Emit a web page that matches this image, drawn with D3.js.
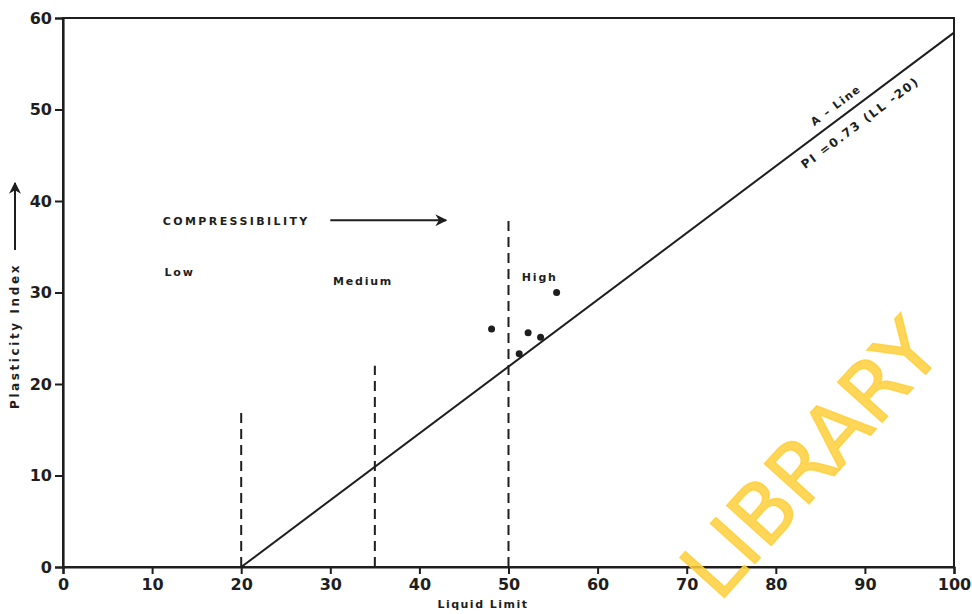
<!DOCTYPE html>
<html>
<head>
<meta charset="utf-8">
<script src="https://cdn.jsdelivr.net/npm/d3@7"></script>
<style>
  body { margin: 0; background: #fff; }
  svg { display: block; }
  text { font-family: "DejaVu Sans", sans-serif; font-weight: bold; }
</style>
</head>
<body>
<div id="chart"></div>
<script>
// values
var xTicks = [0, 10, 20, 30, 40, 50, 60, 70, 80, 90, 100];
var yTicks = [0, 10, 20, 30, 40, 50, 60];
var sampleLL = [48.1, 51.2, 52.2, 53.6, 55.4];
var samplePI = [26.0, 23.3, 25.6, 25.1, 30.0];
var aLineLL = [20, 100];
var aLinePI = [0, 58.4];
var dividerLL = [20, 35, 50];
var dividerTop = [17, 22, 38];
var zoneNames = ["Low", "Medium", "High"];
var zoneLL = [11.4, 30.3, 51.5];
var zonePI = [31.8, 30.8, 31.3];

var W = 972, H = 614;
var margin = {top: 18, right: 18, bottom: 47, left: 63};
var ink = "#1e1e1e";

var svg = d3.select("#chart").append("svg")
    .attr("width", W).attr("height", H);

var x = d3.scaleLinear().domain([0, 100]).range([margin.left, W - margin.right]);
var y = d3.scaleLinear().domain([0, 60]).range([H - margin.bottom, margin.top]);

svg.append("defs").append("marker")
    .attr("id", "head")
    .attr("viewBox", "0 0 10 10")
    .attr("refX", 9).attr("refY", 5)
    .attr("markerWidth", 7).attr("markerHeight", 6)
    .attr("orient", "auto")
    .append("path").attr("d", "M0,0 L10,5 L0,10 L3,5 Z").attr("fill", ink);

// frame
svg.append("rect")
    .attr("x", x(0)).attr("y", y(60))
    .attr("width", x(100) - x(0)).attr("height", y(0) - y(60))
    .attr("fill", "none").attr("stroke", ink).attr("stroke-width", 2);

var xAxis = svg.append("g")
    .attr("transform", "translate(0," + y(0) + ")")
    .call(d3.axisBottom(x).tickValues(xTicks).tickSize(7).tickPadding(5).tickFormat(d3.format("d")));
var yAxis = svg.append("g")
    .attr("transform", "translate(" + x(0) + ",0)")
    .call(d3.axisLeft(y).tickValues(yTicks).tickSize(8).tickPadding(3).tickFormat(d3.format("d")));
[xAxis, yAxis].forEach(function(g) {
    g.select(".domain").attr("stroke", ink).attr("stroke-width", 2.2);
    g.selectAll(".tick line").attr("stroke", ink).attr("stroke-width", 2);
    g.selectAll(".tick text")
        .style("font-family", "DejaVu Sans, sans-serif")
        .style("font-weight", "bold")
        .style("font-size", "16px")
        .style("fill", ink);
});

// A-line
var line = d3.line().x(function(d) { return x(d[0]); }).y(function(d) { return y(d[1]); });
svg.append("path")
    .datum(d3.zip(aLineLL, aLinePI))
    .attr("d", line)
    .attr("fill", "none").attr("stroke", ink).attr("stroke-width", 2);

var ang = Math.atan2(y(aLinePI[1]) - y(aLinePI[0]), x(aLineLL[1]) - x(aLineLL[0])) * 180 / Math.PI;
function onLine(ll, off) {
    var px = x(ll), py = y(aLinePI[0] + (ll - aLineLL[0]) * (aLinePI[1] - aLinePI[0]) / (aLineLL[1] - aLineLL[0]));
    var r = ang * Math.PI / 180;
    return [px + Math.sin(r) * off, py - Math.cos(r) * off];
}
var p1 = onLine(87.6, 9);
svg.append("text")
    .attr("transform", "translate(" + p1 + ") rotate(" + ang + ")")
    .attr("text-anchor", "middle")
    .style("font-size", "11px").style("letter-spacing", "1.5px").style("fill", ink)
    .text("A – Line");
var p2 = onLine(88.4, -20);
svg.append("text")
    .attr("transform", "translate(" + p2 + ") rotate(" + ang + ")")
    .attr("text-anchor", "middle")
    .style("font-size", "12px").style("letter-spacing", "1.8px").style("fill", ink)
    .text("PI =0.73 (LL -20)");

// dashed dividers
svg.selectAll(".divider")
    .data(d3.zip(dividerLL, dividerTop))
    .join("line")
    .attr("class", "divider")
    .attr("x1", function(d) { return x(d[0]); })
    .attr("x2", function(d) { return x(d[0]); })
    .attr("y1", y(0))
    .attr("y2", function(d) { return y(d[1]); })
    .attr("stroke", ink).attr("stroke-width", 2)
    .attr("stroke-dasharray", "10,6");

// samples
svg.selectAll(".pt")
    .data(d3.zip(sampleLL, samplePI))
    .join("circle")
    .attr("class", "pt")
    .attr("cx", function(d) { return x(d[0]); })
    .attr("cy", function(d) { return y(d[1]); })
    .attr("r", 3.5)
    .attr("fill", ink);

// compressibility heading and zone names
svg.append("text")
    .attr("x", x(11.2)).attr("y", y(37.4))
    .style("font-size", "11px").style("letter-spacing", "2.4px").style("fill", ink)
    .text("COMPRESSIBILITY");
svg.append("line")
    .attr("x1", x(30)).attr("x2", x(43))
    .attr("y1", y(37.9)).attr("y2", y(37.9))
    .attr("stroke", ink).attr("stroke-width", 2)
    .attr("marker-end", "url(#head)");

svg.selectAll(".zone")
    .data(d3.zip(zoneNames, zoneLL, zonePI))
    .join("text")
    .attr("class", "zone")
    .attr("x", function(d) { return x(d[1]); })
    .attr("y", function(d) { return y(d[2]); })
    .style("font-size", "11px").style("letter-spacing", "1.8px").style("fill", ink)
    .text(function(d) { return d[0]; });

// axis titles
svg.append("text")
    .attr("x", 483).attr("y", 608)
    .attr("text-anchor", "middle")
    .style("font-size", "11px").style("letter-spacing", "1.5px").style("fill", ink)
    .text("Liquid Limit");
svg.append("text")
    .attr("transform", "translate(19,336) rotate(-90)")
    .attr("text-anchor", "middle")
    .style("font-size", "12px").style("letter-spacing", "2.6px").style("fill", ink)
    .text("Plasticity Index");
svg.append("line")
    .attr("x1", 15).attr("x2", 15)
    .attr("y1", 250).attr("y2", 183)
    .attr("stroke", ink).attr("stroke-width", 2)
    .attr("marker-end", "url(#head)");

// watermark from the scan
svg.append("text")
    .attr("transform", "translate(832,478) rotate(-48)")
    .attr("text-anchor", "middle")
    .style("font-weight", "normal")
    .style("font-size", "82px")
    .style("fill", "#ffcf3a").style("fill-opacity", 0.85)
    .style("stroke", "#ffcf3a").style("stroke-opacity", 0.85).style("stroke-width", 1.5)
    .text("LIBRARY");
</script>
</body>
</html>
